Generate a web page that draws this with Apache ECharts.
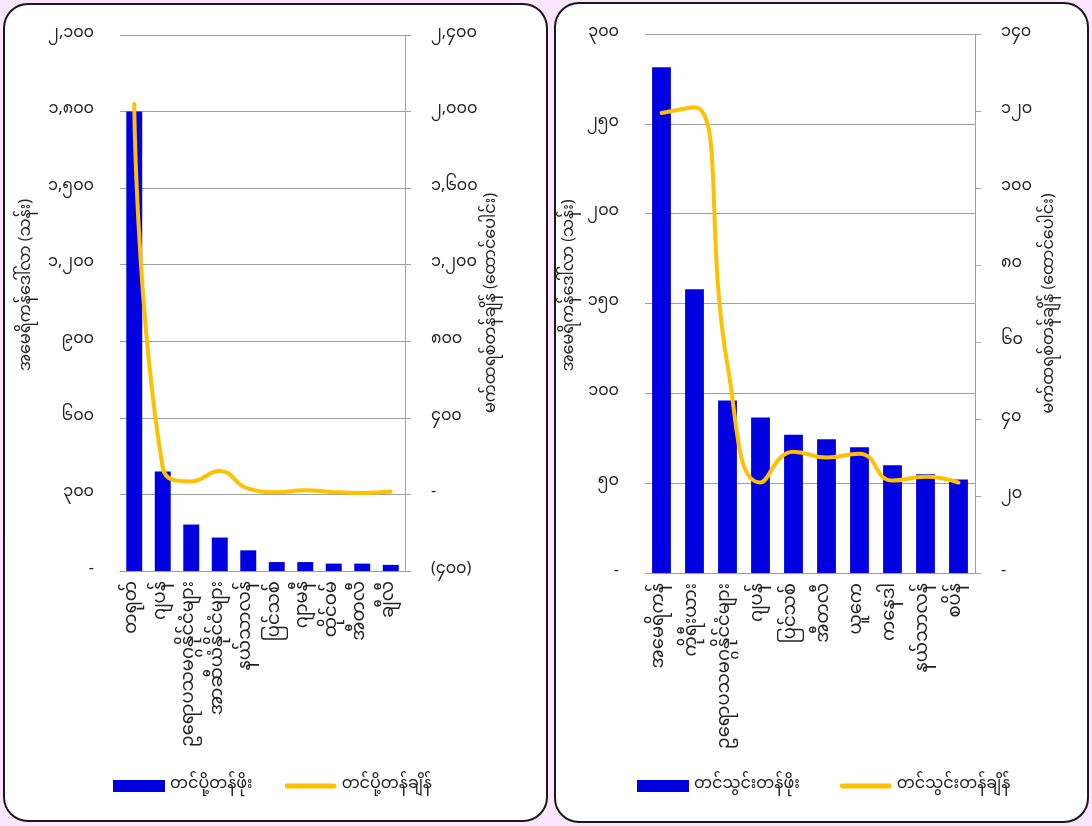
<!DOCTYPE html>
<html>
<head>
<meta charset="utf-8">
<script src="https://cdn.jsdelivr.net/npm/echarts@6/dist/echarts.min.js"></script>
<style>
html,body{margin:0;padding:0;background:#fbe6fb;}
#c{width:1092px;height:826px;}
</style>
</head>
<body>
<div id="c"></div>
<script>
// ---- data ----
const exportCats = ['တရုတ်','ဂျပန်','ဥရောပသမဂ္ဂနိုင်ငံများ','အာဆီယံနိုင်ငံများ','နယ်သာလန်','ပြင်သစ်','ဂျာမနီ','ထိုင်ဝမ်','အီတလီ','ချီလီ'];
const exportValue = [1800, 390, 182, 131, 81, 35, 35, 29, 29, 24];
const exportTonnage = [2040, 140, 68, 122, 30, 12, 22, 12, 8, 15];

const importCats = ['အမေရိကန်','ကိုရီးယား','ဥရောပသမဂ္ဂနိုင်ငံများ','ဂျပန်','ပြင်သစ်','အီတလီ','ယူကေ','ကနေဒါ','နယ်သာလန်','စပိန်'];
const importValue = [281.5, 158, 96, 86.5, 77, 74.5, 70, 60, 55, 52];
const importTonnage = [119.5, 121, 54, 23.5, 31.5, 30, 31, 24, 25, 23.5];

const expTicksLeft = ['-','၃၀၀','၆၀၀','၉၀၀','၁,၂၀၀','၁,၅၀၀','၁,၈၀၀','၂,၁၀၀'];
const expTicksRight = ['(၄၀၀)','-','၄၀၀','၈၀၀','၁,၂၀၀','၁,၆၀၀','၂,၀၀၀','၂,၄၀၀'];
const impTicksLeft = ['-','၅၀','၁၀၀','၁၅၀','၂၀၀','၂၅၀','၃၀၀'];
const impTicksRight = ['-','၂၀','၄၀','၆၀','၈၀','၁၀၀','၁၂၀','၁၄၀'];

const nameValueUSD = 'အမေရိကန်ဒေါ်လာ (သန်း)';
const nameTonnage = 'မက်ထရစ်တန်ချိန် (ထောင်ပေါင်း)';
const expBarName = 'တင်ပို့တန်ဖိုး';
const expLineName = 'တင်ပို့တန်ချိန်';
const impBarName = 'တင်သွင်းတန်ဖိုး';
const impLineName = 'တင်သွင်းတန်ချိန်';

// ---- style ----
const FONT = "'Noto Sans Myanmar','Padauk','Myanmar Text','Myanmar3',sans-serif";
const BLUE = '#0000e0';
const GOLD = '#ffc000';
const GRID = '#a0a0a0';
const TXT = '#222';
const LINE_ICON = 'path://M2,0 L50,0 A2.5,2.5 0 0 1 50,5 L2,5 A2.5,2.5 0 0 1 2,0 Z';

function valAxis(gi, min, max, interval, labels, pos, name, gap, split, namePad) {
  return {
    type: 'value', gridIndex: gi, position: pos, min: min, max: max, interval: interval,
    name: name, nameLocation: 'middle', nameGap: gap, nameRotate: 90,
    nameTextStyle: { fontFamily: FONT, fontSize: 16, color: TXT, padding: namePad || 0 },
    axisLabel: { fontFamily: FONT, fontSize: 16, color: TXT, margin: 26,
      formatter: function (v, i) { return labels[i] !== undefined ? labels[i] : ''; } },
    splitLine: { show: split, lineStyle: { color: GRID, width: 1 } },
    axisLine: { show: !split, lineStyle: { color: GRID, width: 1 } },
    axisTick: { show: !split, length: 6, lineStyle: { color: GRID } }
  };
}

function catAxis(gi, cats) {
  return {
    type: 'category', gridIndex: gi, data: cats,
    axisLine: { lineStyle: { color: GRID, width: 1 } },
    axisTick: { show: false },
    axisLabel: { rotate: 90, interval: 0, fontFamily: FONT, fontSize: 18, color: TXT, margin: 10 }
  };
}

const chart = echarts.init(document.getElementById('c'), null, { renderer: 'canvas' });
chart.setOption({
  backgroundColor: '#fbe6fb',
  animation: false,
  graphic: [
    { type: 'rect', z: -10, shape: { x: 4, y: 4, width: 543, height: 817, r: 24 },
      style: { fill: '#ffffff', stroke: '#1a1a1a', lineWidth: 2 } },
    { type: 'rect', z: -10, shape: { x: 555, y: 3, width: 533, height: 819, r: 24 },
      style: { fill: '#ffffff', stroke: '#1a1a1a', lineWidth: 2 } }
  ],
  grid: [
    { left: 120, top: 35, width: 285, height: 536 },
    { left: 645, top: 34, width: 330, height: 539 }
  ],
  legend: [
    { left: 108, top: 773, itemWidth: 52, itemHeight: 12, itemGap: 32,
      textStyle: { fontFamily: FONT, fontSize: 16, color: TXT },
      data: [{ name: expBarName, icon: 'rect' }, { name: expLineName, icon: LINE_ICON }] },
    { left: 632, top: 773, itemWidth: 52, itemHeight: 12, itemGap: 40,
      textStyle: { fontFamily: FONT, fontSize: 16, color: TXT },
      data: [{ name: impBarName, icon: 'rect' }, { name: impLineName, icon: LINE_ICON }] }
  ],
  xAxis: [catAxis(0, exportCats), catAxis(1, importCats)],
  yAxis: [
    valAxis(0, 0, 2100, 300, expTicksLeft, 'left', nameValueUSD, 84, true, [0, 0, 0, 36]),
    valAxis(0, -400, 2400, 400, expTicksRight, 'right', nameTonnage, 80, false),
    valAxis(1, 0, 300, 50, impTicksLeft, 'left', nameValueUSD, 66, true, [0, 0, 0, 36]),
    valAxis(1, 0, 140, 20, impTicksRight, 'right', nameTonnage, 68, false)
  ],
  series: [
    { name: expBarName, type: 'bar', xAxisIndex: 0, yAxisIndex: 0, data: exportValue,
      barWidth: '56%', itemStyle: { color: BLUE } },
    { name: expLineName, type: 'line', xAxisIndex: 0, yAxisIndex: 1, data: exportTonnage,
      smooth: 0.5, symbol: 'none', z: 5, lineStyle: { color: GOLD, width: 4, cap: 'round' }, itemStyle: { color: GOLD } },
    { name: impBarName, type: 'bar', xAxisIndex: 1, yAxisIndex: 2, data: importValue,
      barWidth: '57%', itemStyle: { color: BLUE } },
    { name: impLineName, type: 'line', xAxisIndex: 1, yAxisIndex: 3, data: importTonnage,
      smooth: 0.5, symbol: 'none', z: 5, lineStyle: { color: GOLD, width: 4, cap: 'round' }, itemStyle: { color: GOLD } }
  ]
});
</script>
</body>
</html>
